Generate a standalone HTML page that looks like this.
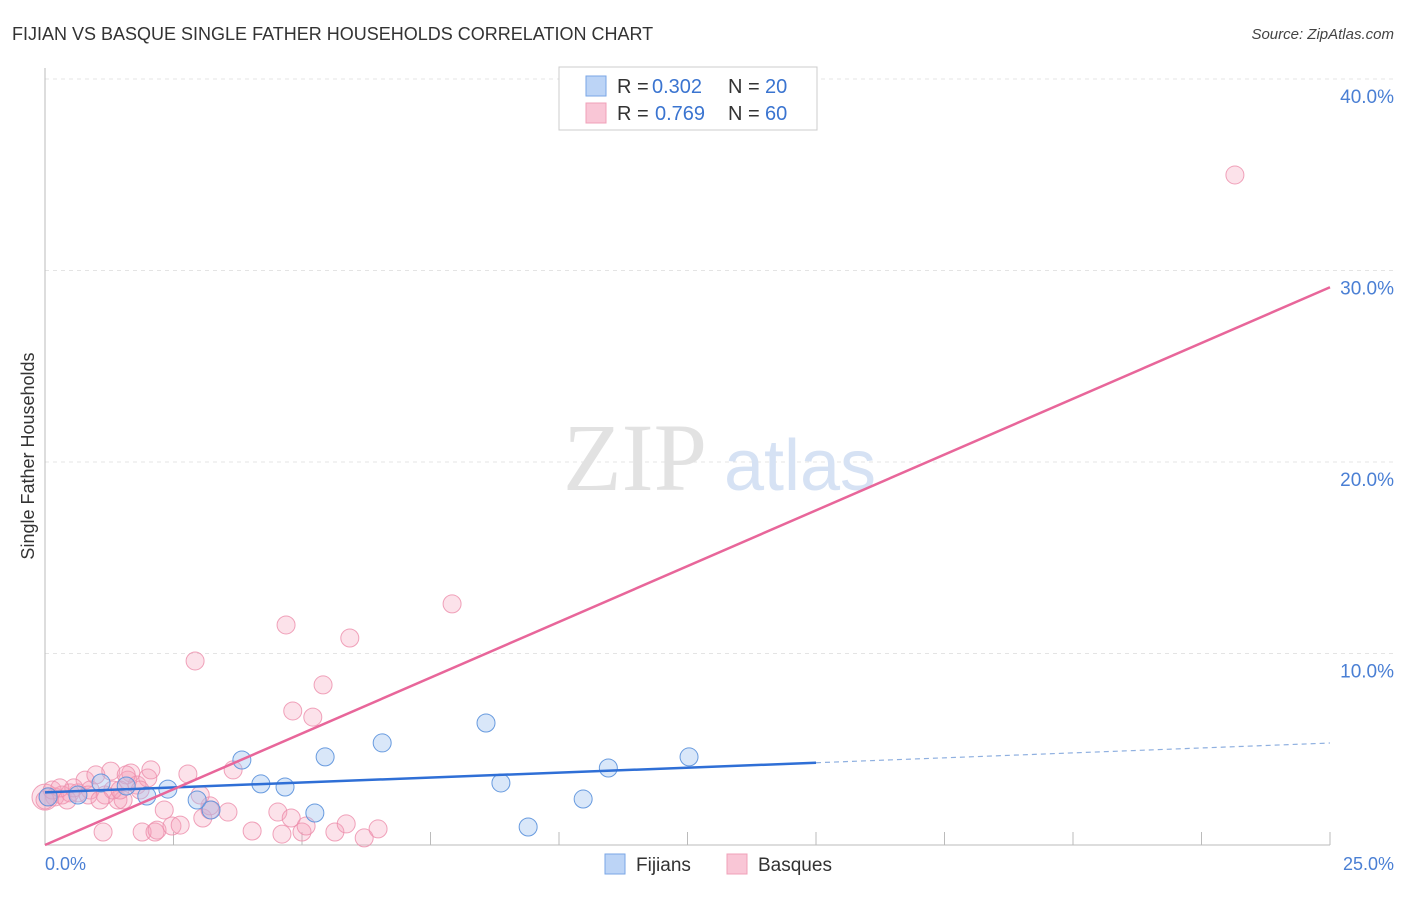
<!DOCTYPE html>
<html><head><meta charset="utf-8"><style>
body{margin:0;background:#fff;font-family:"Liberation Sans",sans-serif}
</style></head><body>
<svg id="c" width="1406" height="892" xmlns="http://www.w3.org/2000/svg" style="font-family:'Liberation Sans',sans-serif">
<text x="12" y="40" font-size="18" fill="#333">FIJIAN VS BASQUE SINGLE FATHER HOUSEHOLDS CORRELATION CHART</text>
<text x="1394" y="39" font-size="15" fill="#444" text-anchor="end" font-style="italic">Source: ZipAtlas.com</text>
<g id="grid"></g>
<text x="635" y="490" font-size="96" fill="#e2e2e2" font-family="Liberation Serif" text-anchor="middle">ZIP</text>
<text x="800" y="490" font-size="72" fill="#d6e2f4" text-anchor="middle">atlas</text>
<line x1="45" y1="68" x2="45" y2="845" stroke="#bbb"/>
<line x1="45" y1="845" x2="1330" y2="845" stroke="#bbb"/>
<text x="34" y="456" font-size="18" fill="#333" text-anchor="middle" transform="rotate(-90 34 456)">Single Father Households</text>
<text x="45" y="870" font-size="18" fill="#4a7fd4">0.0%</text>
<text x="1394" y="870" font-size="18" fill="#4a7fd4" text-anchor="end">25.0%</text>
<g id="pts"></g>
<g id="lines"></g>
<g>
<rect x="559" y="67" width="258" height="63" fill="#fff" stroke="#ccc"/>
<rect x="586" y="76" width="20" height="20" fill="#bcd4f6" stroke="#7aa6e6"/>
<rect x="586" y="103" width="20" height="20" fill="#f9c6d6" stroke="#f0a0b8"/>
<text x="617" y="93" font-size="20" fill="#333">R =</text>
<text x="652" y="93" font-size="20" fill="#3a74d0">0.302</text>
<text x="728" y="93" font-size="20" fill="#333">N =</text>
<text x="765" y="93" font-size="20" fill="#3a74d0">20</text>
<text x="617" y="120" font-size="20" fill="#333">R =</text>
<text x="655" y="120" font-size="20" fill="#3a74d0">0.769</text>
<text x="728" y="120" font-size="20" fill="#333">N =</text>
<text x="765" y="120" font-size="20" fill="#3a74d0">60</text>
</g>
<g>
<rect x="605" y="854" width="20" height="20" fill="#bcd4f6" stroke="#7aa6e6"/>
<text x="636" y="871" font-size="19" fill="#333">Fijians</text>
<rect x="727" y="854" width="20" height="20" fill="#f9c6d6" stroke="#f0a0b8"/>
<text x="758" y="871" font-size="19" fill="#333">Basques</text>
</g>
</svg>
<script>
const yTicks=[10,20,30,40];
const yTickLabels=["10.0%","20.0%","30.0%","40.0%"];
const xTickVals=[2.5,5,7.5,10,12.5,15,17.5,20,22.5,25];
const fijX=[0.06,0.64,1.09,1.58,1.98,2.39,2.96,3.23,3.83,4.20,4.67,5.25,5.45,6.56,8.58,8.87,9.40,10.47,10.96,12.53];
const fijY=[2.51,2.61,3.24,3.08,2.56,2.92,2.35,1.83,4.44,3.19,3.03,1.67,4.60,5.33,6.37,3.24,0.94,2.40,4.02,4.60];
const basX=[0.06,0.19,0.33,0.49,0.64,0.78,0.88,0.99,1.13,1.17,1.28,1.42,1.52,1.61,1.67,1.79,1.89,2.00,2.06,2.14,2.18,2.32,2.47,2.63,2.78,2.92,3.07,3.21,3.56,3.66,4.03,4.53,4.61,4.69,4.79,4.82,5.00,5.08,5.21,5.41,5.64,5.86,5.93,6.21,6.48,7.92,23.15,0,0.14,0.43,0.56,0.84,1.32,1.58,1.85,1.46,1.07,0.29,3.21,3.02];
const basY=[2.51,2.51,2.61,2.72,2.72,3.39,2.87,3.66,0.68,2.61,3.86,2.35,2.35,3.39,3.76,3.13,0.68,3.50,3.92,0.68,0.78,1.83,0.99,1.04,3.71,9.61,1.41,1.83,1.72,3.92,0.73,1.72,0.57,11.49,1.41,7.00,0.68,0.99,6.68,8.36,0.68,1.10,10.81,0.37,0.84,12.59,34.99,2.35,2.87,2.35,2.98,2.61,2.87,3.66,2.87,2.87,2.35,2.98,2.04,2.61];
const fijTrend=[2.75,0.103];const basTrend=[0.0,1.165];
const NS="http://www.w3.org/2000/svg";
const sx=v=>45+v/25*1285, sy=v=>845-v*19.15;
function mk(t,a,p){const e=document.createElementNS(NS,t);for(const k in a)e.setAttribute(k,a[k]);p.appendChild(e);return e;}
const grid=document.getElementById('grid');
yTicks.forEach((t,i)=>{
 const l=mk('line',{x1:45,x2:1394,y1:sy(t),y2:sy(t),stroke:'#e4e4e4','stroke-dasharray':'4,4'},grid);
 
 
 const tx=mk('text',{x:1394,y:sy(t)+24,'font-size':19,fill:'#4a7fd4','text-anchor':'end'},grid);
 tx.textContent=yTickLabels[i];
 
 
});
xTickVals.forEach(v=>{
 const l=mk('line',{x1:sx(v),x2:sx(v),y1:832,y2:845,stroke:'#bbb'},grid);
 
 
});
const pts=document.getElementById('pts');
let b=mk('circle',{cx:sx(0),cy:sy(2.5),r:13,fill:'rgba(244,160,185,0.3)',stroke:'#f0a0b8'},pts);


basX.forEach((x,i)=>{
 const c=mk('circle',{cx:sx(x),cy:sy(basY[i]),r:9,fill:'rgba(244,160,185,0.3)',stroke:'rgba(236,140,170,0.8)'},pts);
 
 
});
fijX.forEach((x,i)=>{
 const c=mk('circle',{cx:sx(x),cy:sy(fijY[i]),r:9,fill:'rgba(160,195,240,0.4)',stroke:'rgba(90,145,220,0.9)'},pts);
 
 
});
const lines=document.getElementById('lines');
let l1=mk('line',{x1:sx(0),y1:sy(fijTrend[0]),x2:sx(15),y2:sy(fijTrend[0]+fijTrend[1]*15),stroke:'#2f6fd6','stroke-width':2.5},lines);


let l2=mk('line',{x1:sx(15),y1:sy(fijTrend[0]+fijTrend[1]*15),x2:sx(25),y2:sy(fijTrend[0]+fijTrend[1]*25),stroke:'#8fb0e0','stroke-width':1.2,'stroke-dasharray':'5,4'},lines);


let l3=mk('line',{x1:sx(0),y1:sy(basTrend[0]),x2:sx(25),y2:sy(basTrend[0]+basTrend[1]*25),stroke:'#e8669a','stroke-width':2.5},lines);


</script>
</body></html>
